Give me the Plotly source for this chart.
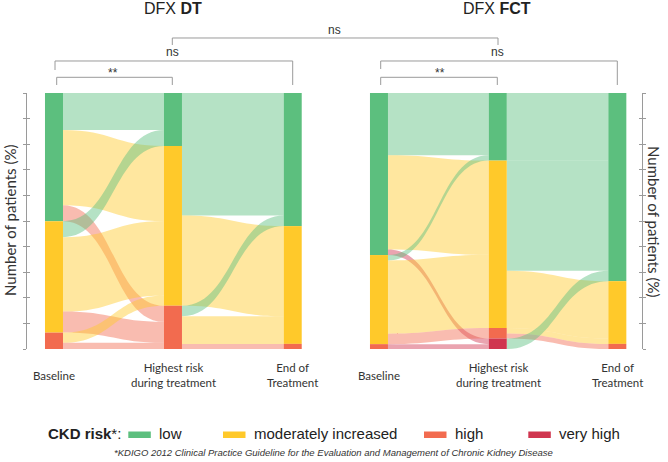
import plotly.graph_objects as go

W, H = 668, 462

# ---------------- data ----------------
risk_levels = ["low", "moderately increased", "high", "very high"]
node_colors = ["#5cbf7e", "#ffc92a", "#f26b4f", "#d0354f"]
link_colors = ["rgba(92,191,126,0.45)", "rgba(255,201,42,0.45)",
               "rgba(242,107,79,0.45)", "rgba(208,53,79,0.45)"]

stage_labels = ["Baseline", "Highest risk<br>during treatment", "End of<br>Treatment"]
panel_titles = ["DFX <b>DT</b>", "DFX <b>FCT</b>"]

# flows: (from risk level index, to risk level index, % of patients)
dt_baseline_to_highest = [(0, 0, 14.5), (0, 1, 29.3), (0, 2, 6.3),
                          (1, 0, 6.2), (1, 1, 29.1), (1, 2, 8.2),
                          (2, 1, 4.0), (2, 2, 2.4)]
dt_highest_to_end = [(0, 0, 20.7), (1, 0, 27.2), (1, 1, 35.2),
                     (2, 0, 4.1), (2, 1, 10.8), (2, 2, 2.0)]

fct_baseline_to_highest = [(0, 0, 24.3), (0, 1, 36.8), (0, 3, 2.2),
                           (1, 0, 2.1), (1, 1, 28.6), (1, 2, 4.1),
                           (2, 3, 1.9)]
fct_highest_to_end = [(0, 0, 26.4), (1, 0, 43.0), (1, 1, 22.4),
                      (2, 1, 2.1), (2, 2, 2.0), (3, 0, 4.1)]

y_ticks = list(range(0, 101, 10))
axis_title = "Number of patients (%)"
legend_title = "<b>CKD risk</b>*:"
footnote = "<i>*KDIGO 2012 Clinical Practice Guideline for the Evaluation and Management of Chronic Kidney Disease</i>"

# ---------------- helpers ----------------
def px(x):
    return x / W


def py(y):
    return 1 - y / H


col_x = [0.035, 0.4985, 0.965]


def build_sankey(flow_sets, dom_x, dom_y):
    nstage = len(flow_sets) + 1
    vals = [[0.0] * 4 for _ in range(nstage)]
    for s, flows in enumerate(flow_sets):
        out = [0.0] * 4
        inn = [0.0] * 4
        for a, b, v in flows:
            out[a] += v
            inn[b] += v
        for l in range(4):
            vals[s][l] = max(vals[s][l], out[l])
            vals[s + 1][l] = max(vals[s + 1][l], inn[l])
    idx = {}
    xs, ys, cols = [], [], []
    for s in range(nstage):
        total = sum(vals[s])
        cum = 0.0
        for l in range(4):
            v = vals[s][l]
            if v <= 0:
                continue
            idx[(s, l)] = len(xs)
            xs.append(col_x[s])
            ys.append((cum + v / 2) / total)
            cols.append(node_colors[l])
            cum += v
    src, tgt, val, lc = [], [], [], []
    for s, flows in enumerate(flow_sets):
        for a, b, v in flows:
            src.append(idx[(s, a)])
            tgt.append(idx[(s + 1, b)])
            val.append(v)
            lc.append(link_colors[b])
    return go.Sankey(
        domain=dict(x=dom_x, y=dom_y),
        arrangement="fixed",
        node=dict(pad=0, thickness=18, x=xs, y=ys, color=cols,
                  label=[""] * len(xs), line=dict(width=0), hoverinfo="none"),
        link=dict(source=src, target=tgt, value=val, color=lc,
                  line=dict(width=0), hoverinfo="none"),
        textfont=dict(size=1, color="rgba(0,0,0,0)"),
    )


dom_y = [py(349), py(93)]
left_dom_x = [px(45), px(301.7)]
right_dom_x = [px(370), px(626.3)]

fig = go.Figure()
fig.add_trace(build_sankey([dt_baseline_to_highest, dt_highest_to_end], left_dom_x, dom_y))
fig.add_trace(build_sankey([fct_baseline_to_highest, fct_highest_to_end], right_dom_x, dom_y))

# dummy traces to realise the tick axes
for xa, ya in [("x", "y"), ("x", "y3"), ("x2", "y2"), ("x2", "y4")]:
    fig.add_trace(go.Scatter(x=[], y=[], xaxis=xa, yaxis=ya, showlegend=False, hoverinfo="skip"))

axis_common = dict(range=[0, 100], tickvals=y_ticks, showticklabels=False,
                   showgrid=False, zeroline=False, tickcolor="#9a9a9a",
                   tickwidth=1, domain=dom_y, fixedrange=True)

fig.update_layout(
    width=W, height=H, margin=dict(l=0, r=0, t=0, b=0),
    paper_bgcolor="white", plot_bgcolor="rgba(0,0,0,0)",
    showlegend=False,
    xaxis=dict(domain=[px(26.5), px(40)], visible=False, range=[0, 1]),
    xaxis2=dict(domain=[px(620), px(642.3)], visible=False, range=[0, 1]),
    yaxis=dict(anchor="x", side="left", showline=True, linecolor="#9a9a9a",
               linewidth=1, ticks="outside", ticklen=3, **axis_common),
    yaxis3=dict(anchor="x", side="left", overlaying="y", showline=False,
                ticks="inside", ticklen=3, **axis_common),
    yaxis2=dict(anchor="x2", side="right", showline=True, linecolor="#9a9a9a",
                linewidth=1, ticks="outside", ticklen=3, **axis_common),
    yaxis4=dict(anchor="x2", side="right", overlaying="y2", showline=False,
                ticks="inside", ticklen=3, **axis_common),
)

ann = []
font_main = "Arial, Liberation Sans, sans-serif"
font_lbl = "Lato, Arial, sans-serif"

# panel titles
for t, cx in zip(panel_titles, [173, 497]):
    ann.append(dict(x=px(cx), y=py(9), text=t, showarrow=False, xref="paper", yref="paper",
                    xanchor="center", yanchor="middle",
                    font=dict(family=font_main, size=16, color="#222")))

# stage labels
left_cols = [54, 173, 292.7]
right_cols = [378.7, 498, 617.5]
for cols in [left_cols, right_cols]:
    for lab, cx in zip(stage_labels, cols):
        ann.append(dict(x=px(cx), y=py(375), text=lab, showarrow=False, xref="paper", yref="paper",
                        xanchor="center", yanchor="middle", align="center",
                        font=dict(family=font_lbl, size=11.5, color="#333")))

# axis titles
ann.append(dict(x=px(10), y=py(221), text=axis_title, textangle=-90, showarrow=False,
                xref="paper", yref="paper", xanchor="center", yanchor="middle",
                font=dict(family=font_lbl, size=15, color="#333")))
ann.append(dict(x=px(654), y=py(221), text=axis_title, textangle=90, showarrow=False,
                xref="paper", yref="paper", xanchor="center", yanchor="middle",
                font=dict(family=font_lbl, size=15, color="#333")))

# significance brackets
brackets = [
    ([(172.3, 45), (172.3, 38), (498, 38), (498, 45)], "ns", 334, 30),
    ([(55, 70), (55, 61), (292.7, 61), (292.7, 85)], "ns", 172.5, 52),
    ([(56.7, 85), (56.7, 77.3), (172.3, 77.3), (172.3, 85)], "**", 113, 73),
    ([(380.7, 69), (380.7, 61), (617.3, 61), (617.3, 85)], "ns", 497.3, 52),
    ([(380.7, 85), (380.7, 77.3), (497.3, 77.3), (497.3, 85)], "**", 440, 73),
]
shapes = []
for pts, lab, lx, ly in brackets:
    path = "M " + " L ".join(f"{px(x):.5f},{py(y):.5f}" for x, y in pts)
    shapes.append(dict(type="path", path=path, xref="paper", yref="paper",
                       line=dict(color="#9a9a9a", width=1)))
    ann.append(dict(x=px(lx), y=py(ly), text=lab, showarrow=False, xref="paper", yref="paper",
                    xanchor="center", yanchor="middle",
                    font=dict(family=font_main, size=12, color="#333")))

# legend
ann.append(dict(x=px(46), y=py(433), text=legend_title, showarrow=False, xref="paper", yref="paper",
                xanchor="left", yanchor="middle", font=dict(family=font_main, size=15, color="#222")))
legend_sw = [128.3, 223, 424, 528.3]
for lvl, col, sx in zip(risk_levels, node_colors, legend_sw):
    shapes.append(dict(type="rect", xref="paper", yref="paper",
                       x0=px(sx), x1=px(sx + 22.5), y0=py(438), y1=py(431.5),
                       fillcolor=col, line=dict(width=0)))
    ann.append(dict(x=px(sx + 28.5), y=py(433), text=lvl, showarrow=False, xref="paper", yref="paper",
                    xanchor="left", yanchor="middle", font=dict(family=font_main, size=15, color="#222")))

ann.append(dict(x=px(333), y=py(452), text=footnote, showarrow=False, xref="paper", yref="paper",
                xanchor="center", yanchor="middle", font=dict(family=font_main, size=9.5, color="#333")))

fig.update_layout(annotations=ann, shapes=shapes)
fig.write_html("out.html", config={"displayModeBar": False, "staticPlot": True},
               post_script="document.body.style.margin='0px';document.body.style.padding='0px';")
